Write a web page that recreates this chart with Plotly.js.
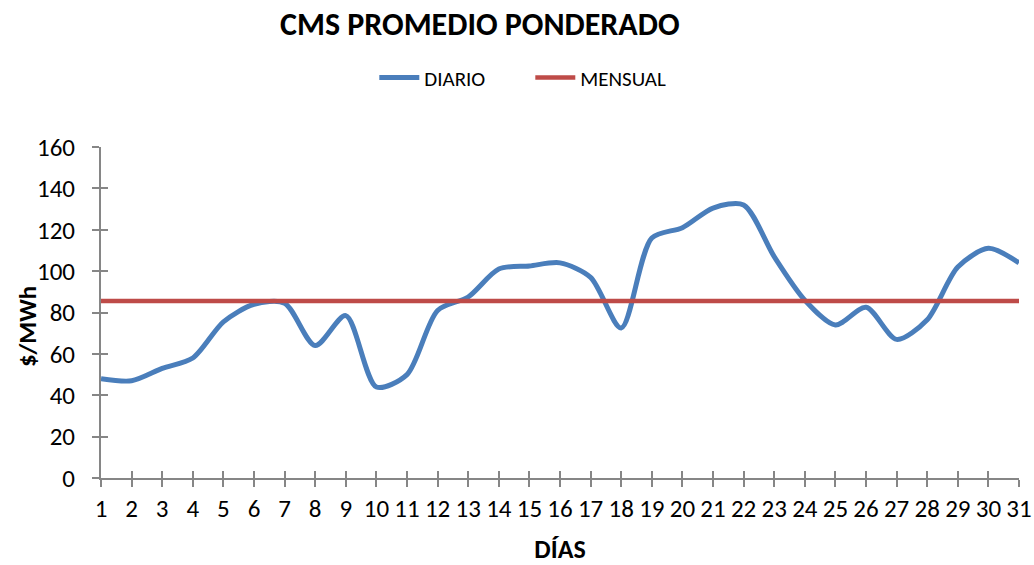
<!DOCTYPE html>
<html>
<head>
<meta charset="utf-8">
<script src="https://cdn.plot.ly/plotly-3.0.1.min.js"></script>
<style>html,body{margin:0;padding:0;background:#fff;}#chart{width:1034px;height:565px;}</style>
</head>
<body>
<div id="chart"></div>
<script>
const dias = [1,2,3,4,5,6,7,8,9,10,11,12,13,14,15,16,17,18,19,20,21,22,23,24,25,26,27,28,29,30,31];
const diario = [48,47,53,58,75.5,84,84.5,64,78.5,44,50,81,87.5,101,102.5,104,97,72.5,116,121,130.5,132,107,86,74,82.5,67,76.5,102,111,104];
const mensual = dias.map(() => 85.5);
const yTicks = [0,20,40,60,80,100,120,140,160];

const FONT = 'Carlito, Calibri, "Liberation Sans", Arial, sans-serif';
const tickFont = {family: FONT, size: 25, color: '#000'};
const AX = '#868686';

Plotly.newPlot('chart', [
  {x: dias, y: mensual, xaxis: 'x2', yaxis: 'y2', type: 'scatter', mode: 'lines',
   line: {color: 'rgba(0,0,0,0)', width: 0}, showlegend: false, hoverinfo: 'skip'},
  {x: dias, y: diario, name: 'DIARIO', type: 'scatter', mode: 'lines',
   line: {color: '#4A7EBB', width: 5, shape: 'spline', smoothing: 0.8}},
  {x: dias, y: mensual, name: 'MENSUAL', type: 'scatter', mode: 'lines',
   line: {color: '#BE4B48', width: 4.5}}
], {
  width: 1034, height: 565,
  margin: {l: 101, r: 15, t: 147, b: 87},
  paper_bgcolor: '#fff', plot_bgcolor: '#fff',
  title: {text: '<b>CMS PROMEDIO PONDERADO</b>', x: 0.464, xref: 'container', xanchor: 'center',
          y: 0.958, yref: 'container', yanchor: 'middle',
          font: {family: FONT, size: 32, color: '#000'}},
  showlegend: true,
  legend: {orientation: 'h', xref: 'container', yref: 'container', x: 0.362, y: 0.862,
           xanchor: 'left', yanchor: 'middle',
           font: {family: FONT, size: 21, color: '#000'},
           itemwidth: 40, entrywidth: 101, entrywidthmode: 'pixels', tracegroupgap: 0},
  annotations: [{text: '<b>$/MWh</b>', xref: 'paper', yref: 'paper', x: -0.0806, y: 0.456,
                 xanchor: 'center', yanchor: 'middle', textangle: -90, showarrow: false,
                 font: {family: FONT, size: 25, color: '#000'}}],
  xaxis: {range: [1, 31], tickmode: 'array', tickvals: dias, ticktext: dias.map(String),
          showgrid: false, zeroline: false, showline: true, linecolor: AX, linewidth: 2,
          ticks: 'outside', ticklen: 7, tickcolor: AX, tickwidth: 2,
          tickfont: tickFont, ticklabelstandoff: 0,
          title: {text: '<b>DÍAS</b>', font: {family: FONT, size: 26, color: '#000'}, standoff: 22}},
  yaxis: {range: [0, 160], tickmode: 'array', tickvals: yTicks, ticktext: yTicks.map(String),
          showgrid: false, zeroline: false, showline: true, linecolor: AX, linewidth: 2,
          ticks: 'outside', ticklen: 7, tickcolor: AX, tickwidth: 2,
          tickfont: tickFont, ticklabelstandoff: 12},
  xaxis2: {overlaying: 'x', anchor: 'y2', side: 'bottom', range: [1, 31], tickmode: 'array', tickvals: dias,
           showticklabels: false, showgrid: false, zeroline: false, showline: false,
           ticks: 'inside', ticklen: 7, tickcolor: AX, tickwidth: 2},
  yaxis2: {overlaying: 'y', anchor: 'x2', side: 'left', range: [0, 160], tickmode: 'array', tickvals: yTicks,
           showticklabels: false, showgrid: false, zeroline: false, showline: false,
           ticks: 'inside', ticklen: 7, tickcolor: AX, tickwidth: 2}
}, {displayModeBar: false, staticPlot: true});
</script>
</body>
</html>
